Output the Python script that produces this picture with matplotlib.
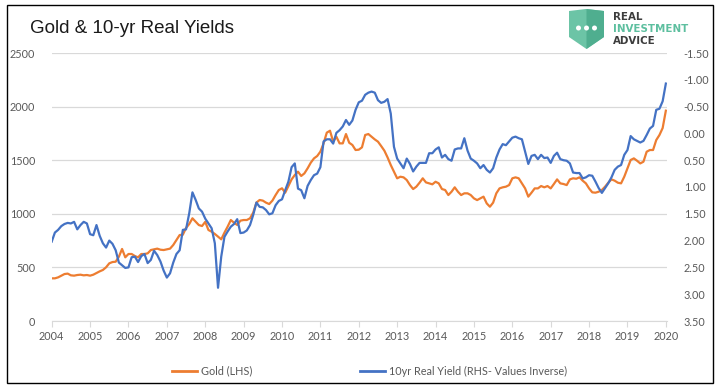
import numpy as np
import matplotlib.pyplot as plt
from matplotlib.patches import Rectangle, Polygon, Ellipse
from matplotlib.lines import Line2D

# monthly readings, starting at the 2004 tick
gold = [398, 398, 407, 423, 438, 442, 426, 423, 429, 432, 426, 429,
        423, 432, 448, 463, 476, 501, 538, 550, 553, 600, 672, 594,
        625, 625, 606, 594, 625, 625, 631, 662, 668, 675, 665, 662,
        668, 675, 709, 756, 802, 805, 868, 905, 958, 927, 895, 886,
        925, 849, 833, 812, 787, 762, 824, 880, 942, 917, 896, 936,
        942, 942, 958, 1011, 1104, 1129, 1123, 1104, 1091, 1123, 1175, 1222,
        1238, 1197, 1259, 1321, 1362, 1393, 1353, 1377, 1424, 1477, 1517, 1539,
        1580, 1657, 1757, 1775, 1673, 1719, 1657, 1657, 1744, 1663, 1642, 1595,
        1598, 1620, 1735, 1744, 1719, 1694, 1673, 1632, 1589, 1526, 1455, 1393,
        1331, 1346, 1340, 1315, 1268, 1231, 1253, 1290, 1331, 1293, 1284, 1275,
        1299, 1284, 1231, 1222, 1175, 1206, 1247, 1206, 1175, 1191, 1191, 1175,
        1144, 1128, 1144, 1160, 1097, 1066, 1104, 1191, 1237, 1247, 1253, 1268,
        1331, 1340, 1331, 1284, 1237, 1160, 1197, 1237, 1237, 1259, 1247, 1259,
        1237, 1278, 1321, 1284, 1278, 1268, 1321, 1331, 1327, 1340, 1309, 1284,
        1237, 1200, 1197, 1206, 1222, 1253, 1290, 1321, 1309, 1290, 1284, 1346,
        1424, 1502, 1517, 1495, 1470, 1486, 1579, 1595, 1595, 1688, 1735, 1800, 1962]

real_yield = [2.02, 1.85, 1.80, 1.73, 1.69, 1.67, 1.68, 1.65, 1.79, 1.71, 1.65, 1.68,
              1.88, 1.90, 1.71, 1.91, 2.05, 2.13, 2.00, 2.06, 2.18, 2.41, 2.46, 2.51,
              2.50, 2.31, 2.30, 2.40, 2.29, 2.25, 2.42, 2.36, 2.19, 2.27, 2.39, 2.56,
              2.69, 2.61, 2.41, 2.25, 2.18, 1.80, 1.79, 1.49, 1.10, 1.24, 1.40, 1.46,
              1.59, 1.68, 1.77, 2.05, 2.88, 2.30, 1.93, 1.83, 1.74, 1.69, 1.60, 1.86,
              1.85, 1.81, 1.71, 1.52, 1.29, 1.37, 1.38, 1.43, 1.51, 1.49, 1.34, 1.26,
              1.23, 1.06, 0.90, 0.63, 0.56, 1.03, 1.06, 1.21, 0.98, 0.87, 0.78, 0.75,
              0.63, 0.15, 0.11, 0.11, 0.19, -0.01, -0.06, -0.13, -0.25, -0.16, -0.24, -0.44,
              -0.58, -0.61, -0.72, -0.76, -0.78, -0.76, -0.62, -0.57, -0.59, -0.64, -0.37, 0.25,
              0.47, 0.56, 0.65, 0.47, 0.57, 0.71, 0.62, 0.55, 0.55, 0.55, 0.37, 0.37,
              0.30, 0.26, 0.45, 0.40, 0.48, 0.51, 0.30, 0.28, 0.28, 0.09, 0.32, 0.47,
              0.51, 0.56, 0.65, 0.59, 0.68, 0.73, 0.65, 0.45, 0.30, 0.20, 0.22, 0.15,
              0.08, 0.06, 0.09, 0.11, 0.34, 0.57, 0.42, 0.40, 0.48, 0.40, 0.46, 0.45,
              0.55, 0.42, 0.36, 0.48, 0.50, 0.51, 0.56, 0.73, 0.74, 0.74, 0.84, 0.82,
              0.78, 0.79, 0.90, 1.02, 1.11, 1.02, 0.93, 0.82, 0.68, 0.62, 0.59, 0.40,
              0.31, 0.05, 0.11, 0.14, 0.17, 0.14, 0.03, -0.09, -0.14, -0.44, -0.46, -0.60, -0.93]

years = list(range(2004, 2021))
gold_ticks = [0, 500, 1000, 1500, 2000, 2500]
yield_ticks = [-1.5, -1.0, -0.5, 0.0, 0.5, 1.0, 1.5, 2.0, 2.5, 3.0, 3.5]

dates = 2004 + np.arange(len(gold)) / 12

W, H = 725, 391
ORANGE = '#ED7D31'
BLUE = '#4472C4'
GRID = '#d9d9d9'
TXT = '#595959'
plt.rcParams['font.family'] = ['Lato', 'DejaVu Sans']

fig = plt.figure(figsize=(W / 100, H / 100), dpi=100)

def fx(px):
    return px / W

def fy(py):
    return 1 - py / H

# outer chart frame
fig.patches.append(Rectangle((fx(7), fy(383)), fx(713) - fx(7), fy(5) - fy(383),
                             transform=fig.transFigure, fill=False, ec='black', lw=1.0))

ax = fig.add_axes([fx(51.7), fy(321), fx(667) - fx(51.7), fy(53) - fy(321)])
ax.plot(dates, gold, color=ORANGE, lw=1.6, solid_joinstyle='round')
ax.set_xlim(2004, 2020.03)
ax.set_ylim(0, 2500)
ax.set_yticks(gold_ticks)
ax.set_xticks(years)
ax.set_xticklabels([str(y) for y in years])
ax.grid(axis='y', color=GRID, lw=0.9)
ax.set_axisbelow(True)
for s in ['left', 'right', 'top']:
    ax.spines[s].set_visible(False)
ax.spines['bottom'].set_color(GRID)
ax.tick_params(axis='x', length=4, color=GRID, labelsize=7.8, labelcolor=TXT, pad=3)
ax.tick_params(axis='y', length=0, labelsize=7.8, labelcolor=TXT, pad=12)

ax2 = ax.twinx()
ax2.plot(dates, real_yield, color=BLUE, lw=1.6, solid_joinstyle='round')
ax2.set_ylim(3.5, -1.5)
ax2.set_yticks(yield_ticks)
ax2.set_yticklabels(['%.2f' % v for v in yield_ticks])
for s in ax2.spines.values():
    s.set_visible(False)
ax2.tick_params(axis='y', length=0, labelsize=7.8, labelcolor=TXT, pad=12)

# title
fig.text(fx(30), fy(33), 'Gold & 10-yr Real Yields', fontsize=13.5,
         family='Liberation Sans', color='#1a1a1a', va='baseline', ha='left')

# logo
shield = Polygon([(fx(569), fy(11)), (fx(586), fy(9)), (fx(604), fy(11)),
                  (fx(604), fy(37)), (fx(586.5), fy(49)), (fx(569), fy(37))],
                 closed=True, transform=fig.transFigure, fc='#6cc4a6', ec='none')
shield_r = Polygon([(fx(586.5), fy(9)), (fx(604), fy(11)), (fx(604), fy(37)),
                    (fx(586.5), fy(49))],
                   closed=True, transform=fig.transFigure, fc='#4fae8f', ec='none')
fig.patches.extend([shield, shield_r])
for cx in [578.5, 586.5, 594.5]:
    fig.patches.append(Ellipse((fx(cx), fy(28)), 5 / W, 5 / H, transform=fig.transFigure,
                               fc='white', ec='none'))
logo_font = dict(fontsize=7.4, family='DejaVu Sans', weight='bold', va='baseline')
fig.text(fx(613), fy(20.5), 'REAL', color='#3d3d3d', **logo_font)
fig.text(fx(613), fy(32.5), 'INVESTMENT', color='#5dbf9f', **logo_font)
fig.text(fx(613), fy(44.5), 'ADVICE', color='#3d3d3d', **logo_font)

handles = [Line2D([], [], color=ORANGE, lw=2), Line2D([], [], color=BLUE, lw=2)]
fig.legend(handles, ['Gold (LHS)', '10yr Real Yield (RHS- Values Inverse)'],
           loc='center left', bbox_to_anchor=(fx(172), fy(371)), ncol=2,
           frameon=False, fontsize=7.8, labelcolor=TXT, handlelength=2.3,
           handletextpad=0.35, columnspacing=10.0, borderpad=0, borderaxespad=0)

fig.savefig('out.png', dpi=100)
